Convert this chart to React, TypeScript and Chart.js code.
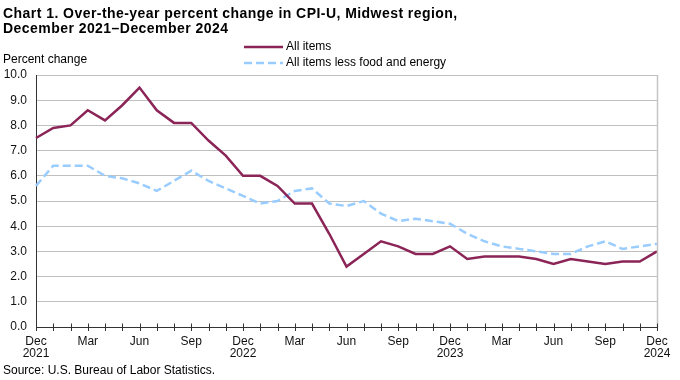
import React, { useEffect, useRef } from "react";
import { Chart, registerables } from "chart.js";

Chart.register(...registerables);

const months: string[] = [
  "Dec 2021", "Jan 2022", "Feb 2022", "Mar 2022", "Apr 2022", "May 2022", "Jun 2022", "Jul 2022", "Aug 2022", "Sep 2022", "Oct 2022", "Nov 2022", "Dec 2022",
  "Jan 2023", "Feb 2023", "Mar 2023", "Apr 2023", "May 2023", "Jun 2023", "Jul 2023", "Aug 2023", "Sep 2023", "Oct 2023", "Nov 2023", "Dec 2023",
  "Jan 2024", "Feb 2024", "Mar 2024", "Apr 2024", "May 2024", "Jun 2024", "Jul 2024", "Aug 2024", "Sep 2024", "Oct 2024", "Nov 2024", "Dec 2024",
];

const allItems: number[] = [
  7.5, 7.9, 8.0, 8.6, 8.2, 8.8, 9.5, 8.6, 8.1, 8.1, 7.4, 6.8, 6.0,
  6.0, 5.6, 4.9, 4.9, 3.7, 2.4, 2.9, 3.4, 3.2, 2.9, 2.9, 3.2,
  2.7, 2.8, 2.8, 2.8, 2.7, 2.5, 2.7, 2.6, 2.5, 2.6, 2.6, 3.0,
];

const lessFoodEnergy: number[] = [
  5.6, 6.4, 6.4, 6.4, 6.0, 5.9, 5.7, 5.4, 5.8, 6.2, 5.8, 5.5, 5.2,
  4.9, 5.0, 5.4, 5.5, 4.9, 4.8, 5.0, 4.5, 4.2, 4.3, 4.2, 4.1,
  3.7, 3.4, 3.2, 3.1, 3.0, 2.9, 2.9, 3.2, 3.4, 3.1, 3.2, 3.3,
];

const shownMonths: string[] = ["Dec", "Mar", "Jun", "Sep"];

const titleLines: string[] = [
  "Chart 1. Over-the-year percent change in CPI-U, Midwest region,",
  "December 2021\u2013December 2024",
];
const seriesNames: string[] = ["All items", "All items less food and energy"];
const yAxisTitle = "Percent change";
const sourceText = "Source: U.S. Bureau of Labor Statistics.";

const PURPLE = "#8b2457";
const BLUE = "#99ccff";
const FONT = '"Liberation Sans", Arial, sans-serif';

const decorPlugin = {
  id: "decor",
  afterDraw(chart: any) {
    const ctx = chart.ctx;
    const area = chart.chartArea;
    const xs = chart.scales.x;
    ctx.save();
    // right border
    ctx.strokeStyle = "#c4c4c4";
    ctx.lineWidth = 1.5;
    ctx.beginPath();
    ctx.moveTo(area.right + 0.5, area.top);
    ctx.lineTo(area.right + 0.5, area.bottom);
    ctx.stroke();
    // crossing tick marks
    ctx.strokeStyle = "#333333";
    ctx.lineWidth = 1;
    for (let i = 0; i < months.length; i++) {
      const x = Math.round(xs.getPixelForValue(i)) + 0.5;
      ctx.beginPath();
      ctx.moveTo(x, area.bottom - 3.5);
      ctx.lineTo(x, area.bottom + 4);
      ctx.stroke();
    }
    // title
    ctx.fillStyle = "#000";
    ctx.textBaseline = "alphabetic";
    ctx.textAlign = "left";
    ctx.font = "bold 14px " + FONT;
    try { (ctx as any).letterSpacing = "0.45px"; } catch (e) {}
    ctx.fillText(titleLines[0], 3, 17.5);
    ctx.fillText(titleLines[1], 3, 33);
    try { (ctx as any).letterSpacing = "0px"; } catch (e) {}
    // axis title
    ctx.font = "12px " + FONT;
    ctx.textBaseline = "middle";
    ctx.fillText(yAxisTitle, 3, 59.5);
    // legend
    const rows = [
      { y: 47, color: PURPLE, dash: [] as number[] },
      { y: 63, color: BLUE, dash: [8, 4] },
    ];
    rows.forEach((r, i) => {
      ctx.strokeStyle = r.color;
      ctx.lineWidth = 2.5;
      ctx.setLineDash(r.dash);
      ctx.beginPath();
      ctx.moveTo(244, r.y);
      ctx.lineTo(283, r.y);
      ctx.stroke();
      ctx.setLineDash([]);
      ctx.fillStyle = "#000";
      ctx.fillText(seriesNames[i], 286, r.y);
    });
    // source
    ctx.fillText(sourceText, 3, 371);
    ctx.restore();
  },
};

export default function App() {
  const canvasRef = useRef<HTMLCanvasElement | null>(null);

  useEffect(() => {
    document.body.style.margin = "0";
    const canvas = canvasRef.current;
    if (!canvas) return;
    const chart = new Chart(canvas, {
      type: "line",
      data: {
        labels: months,
        datasets: [
          {
            label: seriesNames[0],
            data: allItems,
            borderColor: PURPLE,
            backgroundColor: PURPLE,
            borderWidth: 2.5,
            pointRadius: 0,
            tension: 0,
          },
          {
            label: seriesNames[1],
            data: lessFoodEnergy,
            borderColor: BLUE,
            backgroundColor: BLUE,
            borderWidth: 2.5,
            borderDash: [8, 4],
            pointRadius: 0,
            tension: 0,
          },
        ],
      },
      plugins: [decorPlugin],
      options: {
        responsive: false,
        animation: false,
        devicePixelRatio: 1,
        layout: { padding: { top: 75, right: 23, bottom: 0, left: 0 } },
        plugins: {
          legend: { display: false },
          title: { display: false },
          tooltip: { enabled: false },
        },
        scales: {
          x: {
            type: "category",
            offset: false,
            afterFit: (s: any) => {
              s.height = 53;
            },
            grid: { display: false, drawTicks: false },
            border: { display: true, color: "#333333", width: 1 },
            ticks: {
              autoSkip: false,
              maxRotation: 0,
              minRotation: 0,
              padding: 8,
              color: "#111",
              font: { family: FONT, size: 12, lineHeight: 1.05 },
              callback: (_v: any, i: number) => {
                const [m, y] = months[i].split(" ");
                if (!shownMonths.includes(m)) return "";
                return m === "Dec" ? [m, y] : m;
              },
            },
          },
          y: {
            min: 0,
            max: 10,
            afterFit: (s: any) => {
              s.width = 36;
            },
            grid: { color: "#c0c0c0", lineWidth: 1, drawTicks: false },
            border: { display: true, color: "#333333", width: 1 },
            ticks: {
              stepSize: 1,
              padding: 9,
              color: "#111",
              font: { family: FONT, size: 12 },
              callback: (v: any) => Number(v).toFixed(1),
            },
          },
        },
      },
    });
    return () => chart.destroy();
  }, []);

  return (
    <div style={{ width: 680, height: 380, position: "relative", background: "#fff" }}>
      <canvas ref={canvasRef} width={680} height={380} style={{ width: 680, height: 380, display: "block" }} />
    </div>
  );
}
